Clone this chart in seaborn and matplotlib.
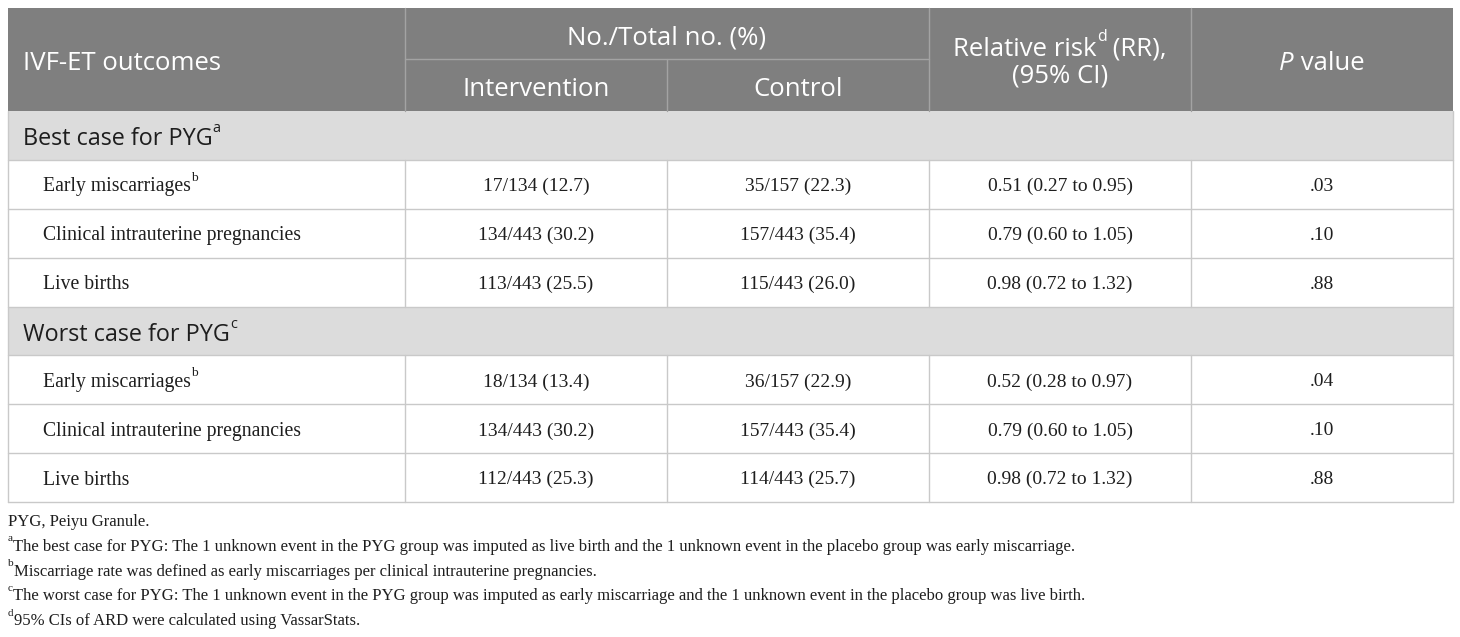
import matplotlib
matplotlib.use("Agg")
import matplotlib.pyplot as plt
import seaborn as sns
from matplotlib.patches import Rectangle

# table contents
outcomes = ["Early miscarriages", "Clinical intrauterine pregnancies", "Live births"]
outcome_sup = ["b", "", ""]
best_intervention = ["17/134 (12.7)", "134/443 (30.2)", "113/443 (25.5)"]
best_control = ["35/157 (22.3)", "157/443 (35.4)", "115/443 (26.0)"]
best_rr = ["0.51 (0.27 to 0.95)", "0.79 (0.60 to 1.05)", "0.98 (0.72 to 1.32)"]
best_p = [".03", ".10", ".88"]
worst_intervention = ["18/134 (13.4)", "134/443 (30.2)", "112/443 (25.3)"]
worst_control = ["36/157 (22.9)", "157/443 (35.4)", "114/443 (25.7)"]
worst_rr = ["0.52 (0.28 to 0.97)", "0.79 (0.60 to 1.05)", "0.98 (0.72 to 1.32)"]
worst_p = [".04", ".10", ".88"]
sections = ["Best case for PYG", "Worst case for PYG"]
section_sup = ["a", "c"]
footnotes = [
    ("", "PYG, Peiyu Granule."),
    ("a", "The best case for PYG: The 1 unknown event in the PYG group was imputed as live birth and the 1 unknown event in the placebo group was early miscarriage."),
    ("b", "Miscarriage rate was defined as early miscarriages per clinical intrauterine pregnancies."),
    ("c", "The worst case for PYG: The 1 unknown event in the PYG group was imputed as early miscarriage and the 1 unknown event in the placebo group was live birth."),
    ("d", "95% CIs of ARD were calculated using VassarStats."),
]

sns.set_theme(style="white")
SANS = ["Open Sans", "DejaVu Sans"]
SERIF = ["Liberation Serif", "DejaVu Serif"]

HEAD_BG = "#7f7f7f"
HEAD_LINE = "#a3a3a3"
SEC_BG = "#dcdcdc"
GRID = "#c9c9c9"
TXT = "#1e1e1e"

fig = plt.figure(figsize=(14.6, 6.37), dpi=100)
ax = fig.add_axes([0, 0, 1, 1])
ax.set_xlim(0, 1460)
ax.set_ylim(637, 0)
ax.axis("off")
renderer = fig.canvas.get_renderer()


def rich(x, y, segs, ha="left", size=12, family=SERIF, color=TXT, sup_scale=0.68):
    """Lay out text segments; kind 'n' normal, 's' superscript, 'i' italic."""
    px = size * 100 / 72
    objs = []
    for s, kind in segs:
        fs = size * sup_scale if kind == "s" else size
        yy = y - 0.42 * px if kind == "s" else y
        t = ax.text(0, yy, s, fontsize=fs, family=family, color=color,
                    style="italic" if kind == "i" else "normal",
                    va="center_baseline", ha="left")
        w = t.get_window_extent(renderer).width
        objs.append((t, w))
    total = sum(w for _, w in objs)
    x0 = x - total / 2 if ha == "center" else x
    for t, w in objs:
        t.set_x(x0)
        x0 += w


L, R = 8, 1453
cols = [8, 405, 667, 929, 1191, 1453]
centers = [(cols[i] + cols[i + 1]) / 2 for i in range(5)]
head_top, head_mid, head_bot = 8, 59, 111
row_h = 48.9

# header block
ax.add_patch(Rectangle((L, head_top), R - L, head_bot - head_top, color=HEAD_BG, lw=0))
for xc in [405, 929, 1191]:
    ax.plot([xc, xc], [head_top, head_bot], color=HEAD_LINE, lw=1)
ax.plot([667, 667], [head_mid, head_bot], color=HEAD_LINE, lw=1)
ax.plot([405, 929], [head_mid, head_mid], color=HEAD_LINE, lw=1)

HS = 18.5
rich(23, 61, [("IVF-ET outcomes", "n")], size=HS, family=SANS, color="white")
rich(667, 35, [("No./Total no. (%)", "n")], ha="center", size=HS, family=SANS, color="white")
rich(centers[1], 87, [("Intervention", "n")], ha="center", size=HS, family=SANS, color="white")
rich(centers[2], 87, [("Control", "n")], ha="center", size=HS, family=SANS, color="white")
rich(centers[3], 46, [("Relative risk", "n"), ("d", "s"), (" (RR),", "n")],
     ha="center", size=HS, family=SANS, color="white", sup_scale=0.62)
rich(centers[3], 73, [("(95% CI)", "n")], ha="center", size=HS, family=SANS, color="white")
rich(centers[4], 61, [("P", "i"), (" value", "n")], ha="center", size=HS, family=SANS, color="white")

# body
y = head_bot
blocks = [
    (best_intervention, best_control, best_rr, best_p),
    (worst_intervention, worst_control, worst_rr, worst_p),
]
for k, (iv, ct, rr, pv) in enumerate(blocks):
    ax.add_patch(Rectangle((L, y), R - L, row_h, color=SEC_BG, lw=0))
    rich(23, y + row_h / 2 + 1, [(sections[k], "n"), (section_sup[k], "s")],
         size=16.8, family=SANS, color=TXT, sup_scale=0.62)
    ax.plot([L, R], [y + row_h, y + row_h], color=GRID, lw=1)
    y += row_h
    for i in range(len(outcomes)):
        segs = [(outcomes[i], "n")]
        if outcome_sup[i]:
            segs.append((outcome_sup[i], "s"))
        yc = y + row_h / 2
        rich(43, yc, segs, size=14.2)
        for c, val in zip(centers[1:], [iv[i], ct[i], rr[i], pv[i]]):
            rich(c, yc, [(val, "n")], ha="center", size=14)
        for xc in cols[1:-1]:
            ax.plot([xc, xc], [y, y + row_h], color=GRID, lw=1)
        ax.plot([L, R], [y + row_h, y + row_h], color=GRID, lw=1)
        y += row_h

# outer border
ax.plot([L, L], [head_bot, y], color=GRID, lw=1)
ax.plot([R, R], [head_bot, y], color=GRID, lw=1)

# footnotes
for j, (sup, txt) in enumerate(footnotes):
    yc = 520 + j * 24.8
    segs = [(sup, "s")] if sup else []
    segs.append((txt, "n"))
    rich(8, yc, segs, size=11.95)

fig.savefig("out.png", dpi=100)
